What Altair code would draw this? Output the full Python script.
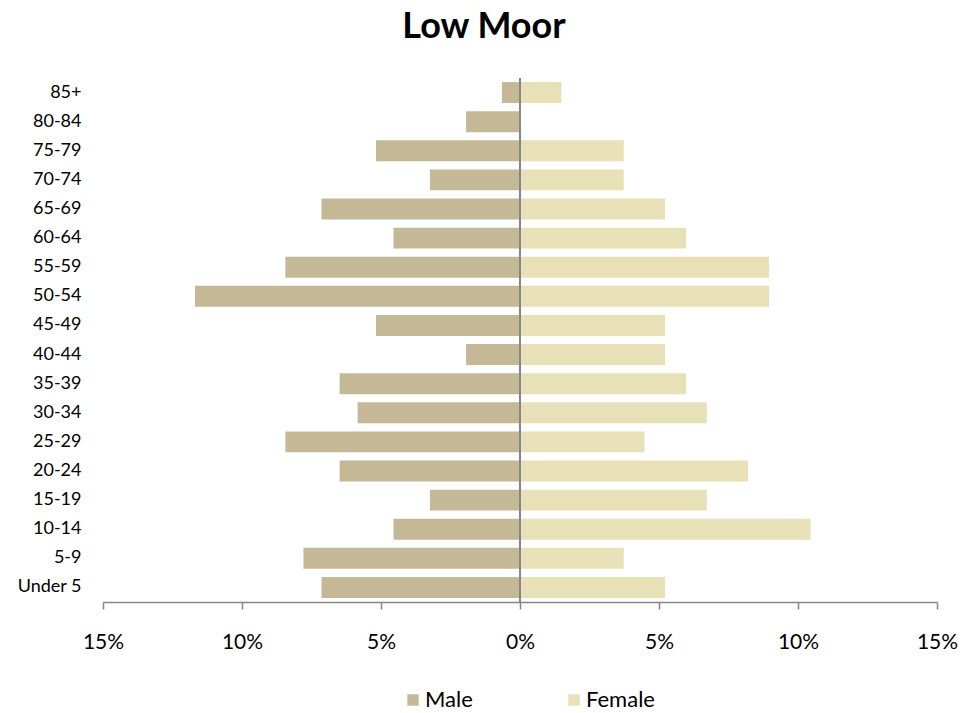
import altair as alt
import pandas as pd

ages = ["85+", "80-84", "75-79", "70-74", "65-69", "60-64", "55-59", "50-54",
        "45-49", "40-44", "35-39", "30-34", "25-29", "20-24", "15-19", "10-14",
        "5-9", "Under 5"]
male = [0.65, 1.94, 5.18, 3.24, 7.14, 4.55, 8.44, 11.69, 5.18, 1.94, 6.49,
        5.84, 8.44, 6.49, 3.24, 4.55, 7.79, 7.14]
female = [1.49, 0.0, 3.73, 3.73, 5.22, 5.97, 8.96, 8.96, 5.22, 5.22, 5.97,
          6.72, 4.48, 8.21, 6.72, 10.45, 3.73, 5.22]

rows = []
for a, m, f in zip(ages, male, female):
    rows.append({"age": a, "sex": "Male", "value": -m})
    rows.append({"age": a, "sex": "Female", "value": f})
df = pd.DataFrame(rows)

FONT = "Lato"

bars = alt.Chart(df).mark_bar().encode(
    x=alt.X("value:Q", scale=alt.Scale(domain=[-15, 15], nice=False, zero=False),
            axis=alt.Axis(values=[-15, -10, -5, 0, 5, 10, 15],
                          labelExpr="abs(datum.value) + '%'",
                          title=None, grid=False, domainColor="#868686",
                          domainWidth=1.5, tickColor="#868686", tickWidth=1.5,
                          tickSize=7, labelPadding=22, labelFontSize=21,
                          labelFlush=False,
                          labelColor="#000000", labelFont=FONT)),
    y=alt.Y("age:N", sort=ages,
            scale=alt.Scale(paddingInner=0.28, paddingOuter=0.14),
            axis=alt.Axis(title=None, domain=False, ticks=False, labelPadding=22,
                          labelFontSize=18, labelColor="#000000", labelFont=FONT)),
    color=alt.Color("sex:N",
                    scale=alt.Scale(domain=["Male", "Female"], range=["#C4B897", "#E8E0B6"]),
                    legend=alt.Legend(title=None, orient="none", direction="horizontal",
                                      legendX=299, legendY=611, symbolType="square",
                                      symbolSize=130, labelFontSize=22, labelFont=FONT,
                                      labelColor="#000000", columnPadding=90,
                                      symbolStrokeWidth=0, padding=0, labelOffset=1)),
)

rule = alt.Chart(df).mark_rule(color="#868686", strokeWidth=2).encode(
    x=alt.datum(0)
)

chart = alt.layer(bars, rule).properties(
    width=834, height=524,
    title=alt.Title("Low Moor", fontSize=36, font=FONT, fontWeight="bold",
                    anchor="middle", frame="group", dx=-36, offset=31,
                    color="#000000"),
    autosize=alt.AutoSizeParams(type="none"),
    padding={"left": 95, "top": 70, "right": 30, "bottom": 110},
).configure_view(stroke=None)

chart.save("out.html", embed_options={"renderer": "svg", "actions": False})
